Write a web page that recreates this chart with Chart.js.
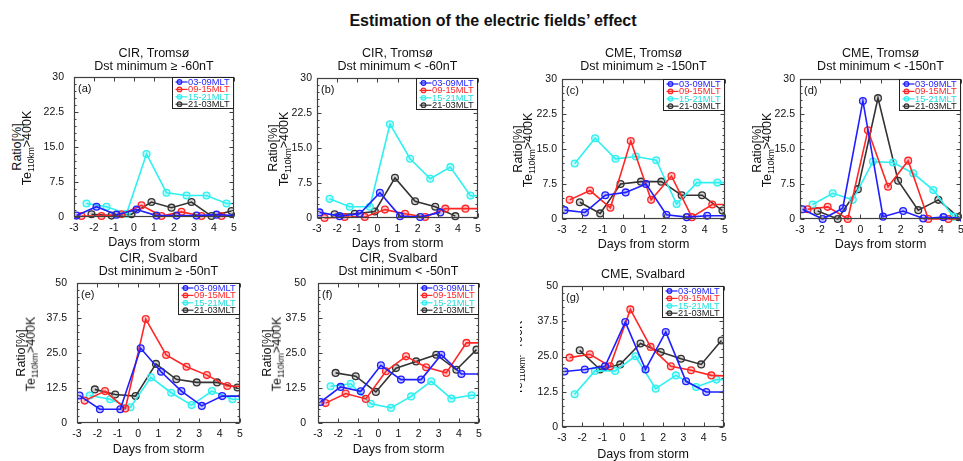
<!DOCTYPE html>
<html><head><meta charset="utf-8">
<script src="https://cdn.jsdelivr.net/npm/chart.js@4.4.1/dist/chart.umd.min.js"></script>
<style>
html,body{margin:0;padding:0;}
body{width:963px;height:461px;overflow:hidden;background:#fff;position:relative;font-family:"Liberation Sans",Arial,Helvetica,sans-serif;color:#111;}
.t{position:absolute;white-space:nowrap;transform:translate(-50%,-50%);font-size:12.5px;line-height:1;}
.yl{position:absolute;white-space:nowrap;transform:translate(-50%,-50%) rotate(-90deg);font-size:12.5px;line-height:1;}
.yl sub{font-size:8.5px;vertical-align:-3px;}
canvas{position:absolute;}
#clipg{position:absolute;left:520px;top:280px;width:40px;height:150px;overflow:hidden;}
</style>
</head><body>
<script>
// ---------- data ----------
const mltLabels = ['03-09MLT','09-15MLT','15-21MLT','21-03MLT'];
const xTickLabels = ['-3','-2','-1','0','1','2','3','4','5'];
const yTicksTromso = ['0','7.5','15.0','22.5','30'];
const yTicksSvalbard = ['0','12.5','25.0','37.5','50'];

// sample positions (days from storm) for each MLT sector
const x0309 = [-2.875,-1.875,-0.875,0.125,1.125,2.125,3.125,4.125,5.125];
const x0915 = [-2.625,-1.625,-0.625,0.375,1.375,2.375,3.375,4.375,5.375];
const x1521 = [-2.375,-1.375,-0.375,0.625,1.625,2.625,3.625,4.625,5.625];
const x2103 = [-2.125,-1.125,-0.125,0.875,1.875,2.875,3.875,4.875];

// (a) CIR, Tromso, Dst min >= -60nT
const a0309 = [0.3,2.2,0.5,1.6,0.3,0.3,0.3,0.5,0.3];
const a0915 = [0.2,0.2,0.6,2.5,0.2,1.1,0.2,0.2,0.2];
const a1521 = [2.9,2.2,0.7,13.5,5.2,4.6,4.6,2.9,2.9];
const a2103 = [0.6,0.3,0.6,3.2,2.0,3.2,0.2,1.3];
// (b) CIR, Tromso, Dst min < -60nT
const b0309 = [1.2,0.4,0.9,5.4,0.4,0.2,1.2];
const b0915 = [0.0,0.2,0.2,1.8,0.9,0.2,2.0,2.0,2.0];
const b1521 = [4.1,2.4,2.4,20.1,12.7,8.4,10.9,4.8,4.7];
const b2103 = [0.8,0.9,1.4,8.6,3.6,2.4,0.4];
// (c) CME, Tromso, Dst min >= -150nT
const c0309 = [1.9,1.4,5.1,5.7,7.5,0.9,0.4,0.7,0.7];
const c0915 = [4.1,6.1,2.4,16.7,4.1,9.2,0.4,3.1,3.1];
const c1521 = [11.9,17.3,12.9,13.4,12.6,3.2,7.8,7.8,7.8];
const c2103 = [3.6,1.2,7.5,8.0,8.0,5.1,5.1,1.8];
// (d) CME, Tromso, Dst min < -150nT
const d0309 = [2.1,0.0,2.3,25.3,0.5,1.7,0.1,0.4,0.1];
const d0915 = [2.1,2.6,0.0,19.0,6.9,12.5,0.0,0.0,0.0];
const d1521 = [3.1,5.5,4.1,12.3,12.1,9.8,6.2,0.5];
const d2103 = [1.7,0.0,6.4,25.9,8.2,1.9,4.1,0.4];
// (e) CIR, Svalbard, Dst min >= -50nT
const e0309 = [9.8,4.9,4.9,26.7,18.3,11.4,6.1,9.6,9.6];
const e0915 = [8.0,11.4,5.2,37.1,24.3,20.1,17.1,13.2,13.0];
const e1521 = [9.8,8.5,5.6,16.3,10.8,6.4,11.4,8.5,8.5];
const e2103 = [12.0,10.2,9.6,21.1,15.6,14.5,14.5,12.7];
// (f) CIR, Svalbard, Dst min < -50nT
const f0309 = [7.5,12.9,11.3,20.6,15.5,15.5,24.4,17.5,17.5];
const f0915 = [7.1,10.5,8.6,18.5,23.8,19.9,17.9,28.6,28.6];
const f1521 = [13.1,14.0,6.9,5.4,9.5,14.9,8.7,9.9,9.9];
const f2103 = [17.9,16.7,11.1,19.6,22.0,24.4,19.0,26.2];
// (g) CME, Svalbard
const g0309 = [19.7,20.4,21.5,37.2,20.4,33.7,16.2,12.4,12.4];
const g0915 = [24.6,25.8,21.5,41.7,28.4,21.5,20.1,18.3,18.0];
const g1521 = [11.6,19.9,19.9,25.1,13.6,18.3,14.2,16.8,16.8];
const g2103 = [27.2,20.4,22.2,29.6,26.6,24.2,22.2,30.7];

// ---------- styling / layout ----------
const FONT = '"Liberation Sans", Arial, Helvetica, sans-serif';
const lineColors = ['#1f1fff','#ff2626','#2ff0f0','#333333'];
const fillColors = ['rgba(31,31,255,0.25)','rgba(255,38,38,0.25)','rgba(47,240,240,0.3)','rgba(51,51,51,0.2)'];
const textColors = ['#1f1fff','#ff2626','#22dede','#222222'];
const xSets = [x0309, x0915, x1521, x2103];

const panels = [
  {letter:'(a)', rect:[74,77,234,217],  yMax:30, yTicks:yTicksTromso,  series:[a0309,a0915,a1521,a2103], t1:'CIR, Tromsø', t2:'Dst minimum ≥ -60nT',  ty:[53,65.5], xl:242, yl:[17,28], yPad:10},
  {letter:'(b)', rect:[317,78,478,218], yMax:30, yTicks:yTicksTromso,  series:[b0309,b0915,b1521,b2103], t1:'CIR, Tromsø', t2:'Dst minimum < -60nT',  ty:[53,65.5], xl:243, yl:[273,285], yPad:5},
  {letter:'(c)', rect:[562,79,725,219], yMax:30, yTicks:yTicksTromso,  series:[c0309,c0915,c1521,c2103], t1:'CME, Tromsø', t2:'Dst minimum ≥ -150nT', ty:[53,65.5], xl:244, yl:[518,529], yPad:5},
  {letter:'(d)', rect:[800,79,961,219], yMax:30, yTicks:yTicksTromso,  series:[d0309,d0915,d1521,d2103], t1:'CME, Tromsø', t2:'Dst minimum < -150nT', ty:[53,65.5], xl:244, yl:[757,768], yPad:5},
  {letter:'(e)', rect:[77,283,240,423], yMax:50, yTicks:yTicksSvalbard, series:[e0309,e0915,e1521,e2103], t1:'CIR, Svalbard', t2:'Dst minimum ≥ -50nT', ty:[258,270.5], xl:449, yl:[21,32], yPad:10},
  {letter:'(f)', rect:[318,283,479,423],yMax:50, yTicks:yTicksSvalbard, series:[f0309,f0915,f1521,f2103], t1:'CIR, Svalbard', t2:'Dst minimum < -50nT', ty:[258,270.5], xl:449, yl:[267,278], yPad:12},
  {letter:'(g)', rect:[562,286,724,427],yMax:50, yTicks:yTicksSvalbard, series:[g0309,g0915,g1521,g2103], t1:'CME, Svalbard', t2:null, ty:[274,0], xl:454, yl:[507,519], yPad:4, clipY:true}
];

function addText(cls, html, x, y, extra){
  const d = document.createElement('div');
  d.className = cls; d.innerHTML = html;
  d.style.left = x+'px'; d.style.top = y+'px';
  if (extra) Object.assign(d.style, extra);
  document.body.appendChild(d);
  return d;
}

addText('t','Estimation of the electric fields’ effect',493,21,{fontWeight:'bold',fontSize:'16px'});

const framePlugin = {
  id:'frame',
  afterDatasetsDraw(chart){
    const {ctx, chartArea, scales} = chart;
    const l = Math.round(chartArea.left)+0.5, r = Math.round(chartArea.right)-0.5;
    const t = Math.round(chartArea.top)+0.5, b = Math.round(chartArea.bottom)-0.5;
    ctx.save();
    ctx.strokeStyle = '#404040'; ctx.lineWidth = 1.2;
    ctx.strokeRect(l, t, r-l, b-t);
    ctx.lineWidth = 1;
    ctx.beginPath();
    scales.x.ticks.forEach(tk => {
      const px = Math.round(scales.x.getPixelForValue(tk.value))+0.5;
      ctx.moveTo(px,b); ctx.lineTo(px,b-4);
      ctx.moveTo(px,t); ctx.lineTo(px,t+4);
    });
    const yt = scales.y.ticks;
    for (let i=0;i<yt.length;i++){
      const py = Math.round(scales.y.getPixelForValue(yt[i].value))+0.5;
      ctx.moveTo(l,py); ctx.lineTo(l+4,py);
      ctx.moveTo(r,py); ctx.lineTo(r-4,py);
      if (i<yt.length-1){
        const step = (yt[i+1].value-yt[i].value)/5;
        for (let k=1;k<5;k++){
          const pm = Math.round(scales.y.getPixelForValue(yt[i].value+k*step))+0.5;
          ctx.moveTo(l,pm); ctx.lineTo(l+2,pm);
          ctx.moveTo(r,pm); ctx.lineTo(r-2,pm);
        }
      }
    }
    ctx.stroke();
    ctx.restore();
  },
  afterDraw(chart, args, opts){
    const {ctx, chartArea} = chart;
    const bw = 61, bh = 31;
    const bx = Math.round(chartArea.right) - bw - 0.5, by = Math.round(chartArea.top) + 0.5;
    ctx.save();
    ctx.fillStyle = '#fff';
    ctx.fillRect(bx, by, bw, bh);
    ctx.strokeStyle = '#222'; ctx.lineWidth = 1;
    ctx.strokeRect(bx, by, bw, bh);
    ctx.font = '9.3px ' + FONT;
    ctx.textBaseline = 'middle';
    chart.data.datasets.forEach((ds,i) => {
      const yy = by + 4.5 + i*7.4;
      ctx.strokeStyle = lineColors[i]; ctx.lineWidth = 1.2;
      ctx.beginPath(); ctx.moveTo(bx+3,yy); ctx.lineTo(bx+15,yy); ctx.stroke();
      ctx.beginPath(); ctx.arc(bx+7,yy,2.3,0,Math.PI*2);
      ctx.fillStyle = fillColors[i]; ctx.fill(); ctx.stroke();
      ctx.fillStyle = textColors[i];
      ctx.fillText(ds.label, bx+15.5, yy+0.5);
    });
    ctx.fillStyle = '#111';
    ctx.font = '11px ' + FONT;
    ctx.fillText(opts.letter, chartArea.left+4, chartArea.top+12);
    ctx.restore();
  }
};

const YW = 40, PT = 22, PR = 12, XH = 24;
panels.forEach(p => {
  const [L,T,R,B] = p.rect;
  const w = YW + (R-L) + PR, h = PT + (B-T) + XH;
  const c = document.createElement('canvas');
  c.width = w; c.height = h;
  c.style.left = (L-YW)+'px'; c.style.top = (T-PT)+'px';
  c.style.width = w+'px'; c.style.height = h+'px';
  document.body.appendChild(c);

  const cx = (L+R)/2;
  addText('t', p.t1, cx, p.ty[0]);
  if (p.t2) addText('t', p.t2, cx, p.ty[1]);
  addText('t', 'Days from storm', cx, p.xl);
  const cy = (T+B)/2;
  const teHtml = 'Te<sub>110km</sub>&gt;400K';
  if (p.clipY){
    const box = document.getElementById('clipg') || (()=>{const d=document.createElement('div');d.id='clipg';document.body.appendChild(d);return d;})();
    box.style.left='520px'; box.style.top=(cy-75)+'px';
    const r1 = document.createElement('div'); r1.className='yl'; r1.innerHTML='Ratio[%]';
    r1.style.left=(p.yl[0]-520)+'px'; r1.style.top='75px'; box.appendChild(r1);
    const r2 = document.createElement('div'); r2.className='yl'; r2.innerHTML=teHtml;
    r2.style.left=(p.yl[1]-520)+'px'; r2.style.top='76px'; box.appendChild(r2);
  } else {
    addText('yl','Ratio[%]', p.yl[0], cy);
    addText('yl', teHtml, p.yl[1], cy+1);
  }

  const datasets = p.series.map((ys,i) => ({
    label: mltLabels[i],
    data: ys.map((v,j) => ({x: xSets[i][j], y: v})),
    borderColor: lineColors[i],
    backgroundColor: fillColors[i],
    pointBackgroundColor: fillColors[i],
    pointBorderColor: lineColors[i],
    borderWidth: 1.6,
    pointRadius: 3.4,
    pointBorderWidth: 1.3,
    tension: 0,
    fill: false,
    clip: {left:0, right:0, top:6, bottom:6}
  }));

  new Chart(c, {
    type:'line',
    data:{datasets},
    options:{
      responsive:false, animation:false, devicePixelRatio:1,
      layout:{padding:{left:0,right:PR,top:PT,bottom:0}},
      plugins:{legend:{display:false}, tooltip:{enabled:false}, title:{display:false}, frame:{letter:p.letter}},
      scales:{
        x:{type:'linear', min:-3, max:5,
           grid:{display:false, drawTicks:false}, border:{display:false},
           afterFit(s){ s.height = XH; },
           ticks:{stepSize:1, padding:5, maxRotation:0, autoSkip:false, color:'#111',
                  font:{size:10.5, family:FONT},
                  callback:(v,i)=>xTickLabels[i]}},
        y:{type:'linear', min:0, max:p.yMax,
           grid:{display:false, drawTicks:false}, border:{display:false},
           afterFit(s){ s.width = YW; },
           ticks:{stepSize:p.yMax/4, padding:p.yPad, color:'#111',
                  font:{size:10.5, family:FONT},
                  callback:(v,i)=>p.yTicks[i]}}
      }
    },
    plugins:[framePlugin]
  });
});
</script>
</body></html>
